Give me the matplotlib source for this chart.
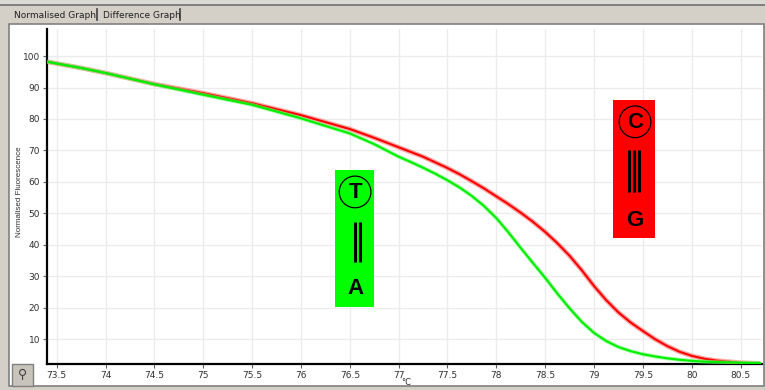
import matplotlib
matplotlib.use("Agg")
import matplotlib.pyplot as plt
from matplotlib.patches import Rectangle

# ---------------- data ----------------
temps = [73.40, 73.75, 74.0, 74.5, 75.0, 75.5, 76.0, 76.5, 76.75, 77.0, 77.125, 77.25,
         77.375, 77.5, 77.625, 77.75, 77.875, 78.0, 78.125, 78.25, 78.375, 78.5, 78.625,
         78.75, 78.875, 79.0, 79.125, 79.25, 79.375, 79.5, 79.625, 79.75, 79.875, 80.0,
         80.125, 80.25, 80.5, 80.7]
green_ta = [98.2, 96.2, 94.6, 91.0, 87.7, 84.5, 80.2, 75.4, 72.0, 68.0, 66.3, 64.5,
            62.6, 60.5, 58.2, 55.5, 52.3, 48.5, 43.9, 39.0, 34.2, 29.5, 24.5,
            19.8, 15.5, 12.0, 9.4, 7.5, 6.2, 5.2, 4.5, 3.9, 3.45, 3.1,
            2.85, 2.7, 2.5, 2.4]
red_cg = [98.2, 96.2, 94.6, 91.1, 88.2, 85.0, 81.2, 76.8, 74.0, 71.0, 69.5, 68.0,
          66.2, 64.4, 62.4, 60.2, 57.9, 55.4, 52.9, 50.2, 47.3, 44.1, 40.5,
          36.5, 31.9, 26.9, 22.4, 18.5, 15.3, 12.6, 10.0, 7.8, 6.0, 4.7,
          3.8, 3.2, 2.5, 2.3]
x_ticks = [73.5, 74, 74.5, 75, 75.5, 76, 76.5, 77, 77.5, 78, 78.5, 79, 79.5, 80, 80.5]
x_tick_labels = ["73.5", "74", "74.5", "75", "75.5", "76", "76.5", "77", "77.5",
                 "78", "78.5", "79", "79.5", "80", "80.5"]
y_ticks = [10, 20, 30, 40, 50, 60, 70, 80, 90, 100]
tab_labels = ["Normalised Graph", "Difference Graph"]

W, H = 765, 390
def fx(x): return x / W
def fy(y): return 1 - y / H

fig = plt.figure(figsize=(7.65, 3.9), dpi=100, facecolor="#d4d0c8")

# window chrome (drawn beneath the axes)
Z = -10
fig.add_artist(Rectangle((0, fy(5)), 1, 5 / H, transform=fig.transFigure,
                         facecolor="#dcdad5", edgecolor="none", zorder=Z))
fig.add_artist(plt.Line2D([0, 1], [fy(5), fy(5)], transform=fig.transFigure,
                          color="#707070", lw=1.2, zorder=Z))
fig.add_artist(Rectangle((fx(9), fy(386)), fx(755), 362 / H, transform=fig.transFigure,
                         facecolor="white", edgecolor="#808080", lw=1.2, zorder=Z))
fig.add_artist(plt.Line2D([fx(97), fx(97)], [fy(9), fy(20)], transform=fig.transFigure,
                          color="#404040", lw=1.2, zorder=Z))
fig.add_artist(plt.Line2D([fx(180), fx(180)], [fy(9), fy(20)], transform=fig.transFigure,
                          color="#404040", lw=1.2, zorder=Z))
fig.text(fx(14), fy(15), tab_labels[0], fontsize=6.5, family="DejaVu Sans",
         va="center", ha="left", color="#202020")
fig.text(fx(103), fy(15), tab_labels[1], fontsize=6.5, family="DejaVu Sans",
         va="center", ha="left", color="#202020")
# wrench button
fig.add_artist(Rectangle((fx(12), fy(386)), fx(21), 22 / H, transform=fig.transFigure,
                         facecolor="#c8c4bc", edgecolor="#808080", lw=1, zorder=Z + 1))
fig.text(fx(22.5), fy(375), "⚲", fontsize=9, ha="center", va="center", color="#404040",
         family="DejaVu Sans")

ax = fig.add_axes([fx(47), fy(364), fx(762) - fx(47), (364 - 29) / H])
ax.set_facecolor("white")

ax.plot(temps, red_cg, color="#ff5050", lw=3.4, alpha=0.5, solid_capstyle="butt",
        solid_joinstyle="round", zorder=3)
ax.plot(temps, red_cg, color="#ff0000", lw=1.5, solid_joinstyle="round", zorder=3)
ax.plot(temps, green_ta, color="#66ff66", lw=2.8, alpha=0.6, solid_capstyle="butt",
        solid_joinstyle="round", zorder=4)
ax.plot(temps, green_ta, color="#00ee00", lw=1.5, solid_joinstyle="round", zorder=4)

ax.set_xlim(73.40, 80.72)
ax.set_ylim(2.1, 108.6)
ax.set_xticks(x_ticks)
ax.set_xticklabels(x_tick_labels)
ax.set_yticks(y_ticks)
ax.grid(True, color="#ececec", lw=1.0)
ax.set_axisbelow(True)
for s in ["top", "right"]:
    ax.spines[s].set_visible(False)
for s in ["left", "bottom"]:
    ax.spines[s].set_linewidth(1.6)
    ax.spines[s].set_color("black")
ax.tick_params(axis="both", length=3, width=0.8, color="#606060",
               labelsize=6.5, labelcolor="#303030", pad=2)
for lbl in ax.get_xticklabels() + ax.get_yticklabels():
    lbl.set_family("DejaVu Sans")

fig.text(fx(406), fy(382.5), "°C", fontsize=6, ha="center", va="center",
         color="#303030", family="DejaVu Sans")
fig.text(fx(20), fy(192), "Normalised Fluorescence", fontsize=5.8, rotation=90,
         ha="center", va="center", color="#303030", family="Liberation Sans")

# annotation boxes
ax.add_patch(Rectangle((76.35, 20.2), 0.40, 43.5, facecolor="#00ff00",
                       edgecolor="none", zorder=5))
ax.add_patch(Rectangle((79.19, 42.2), 0.43, 43.8, facecolor="#ff0000",
                       edgecolor="none", zorder=5))
bold = dict(fontsize=16, fontweight="bold", family="Liberation Sans",
            ha="center", va="center", color="black", zorder=6)
ax.text(76.554, 56.6, "T", **bold)
ax.scatter([76.554], [56.8], s=520, facecolors="none", edgecolors="black",
           linewidths=0.9, zorder=6)
ax.text(76.554, 26.2, "A", **bold)
ax.vlines([76.553, 76.603], 34.6, 47.3, colors="black", lw=2.2, zorder=6)

ax.text(79.42, 78.9, "C", **bold)
ax.scatter([79.42], [79.1], s=520, facecolors="none", edgecolors="black",
           linewidths=0.9, zorder=6)
ax.text(79.42, 47.8, "G", **bold)
ax.vlines([79.354, 79.405, 79.457], 56.8, 70.1, colors="black", lw=2.2, zorder=6)

fig.savefig("out.png", dpi=100, facecolor=fig.get_facecolor())
